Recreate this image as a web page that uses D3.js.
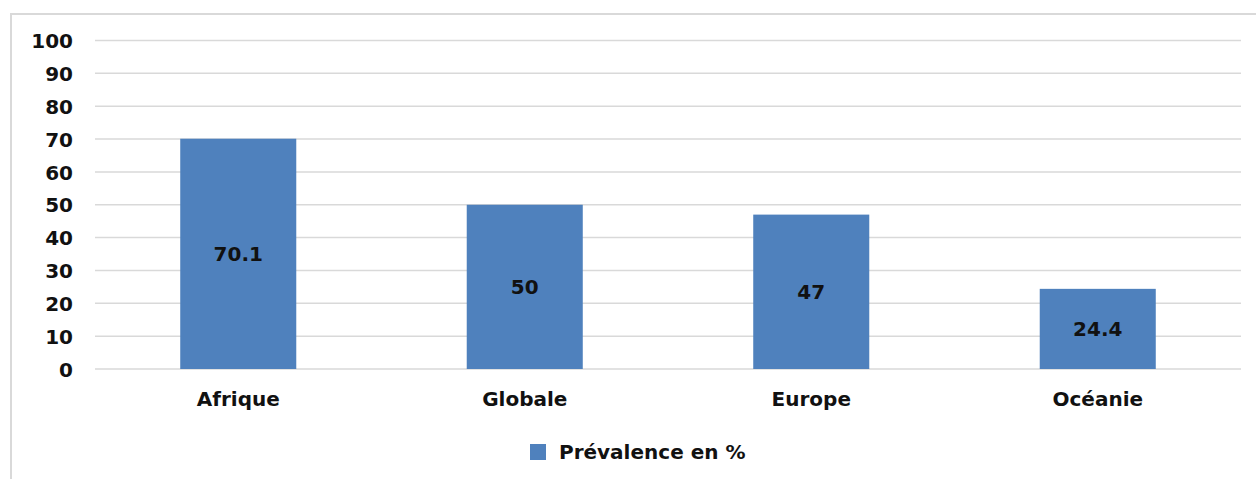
<!DOCTYPE html>
<html><head><meta charset="utf-8">
<script src="https://cdn.jsdelivr.net/npm/d3@7"></script>
<style>html,body{margin:0;padding:0;background:#fff;}svg{display:block;}</style>
</head><body>
<svg id="c" width="1256" height="479"></svg>
<script>
const categories = ["Afrique", "Globale", "Europe", "Océanie"];
const values = [70.1, 50, 47, 24.4];
const valueLabels = ["70.1", "50", "47", "24.4"];
const yTicks = [0, 10, 20, 30, 40, 50, 60, 70, 80, 90, 100];
const seriesName = "Prévalence en %";

const svg = d3.select("#c");
const font = "'DejaVu Sans', Verdana, sans-serif";
const plotLeft = 95, plotRight = 1241, plotTop = 40.5, plotBottom = 369;

svg.append("rect").attr("x", 11).attr("y", 14).attr("width", 1300).attr("height", 600)
  .attr("fill", "#fff").attr("stroke", "#d9d9d9").attr("stroke-width", 2);

const x = d3.scaleBand().domain(categories).range([plotLeft, plotRight])
  .paddingInner(0.595).paddingOuter(0.2975);
const y = d3.scaleLinear().domain([0, 100]).range([plotBottom, plotTop]);

// gridlines
svg.append("g").selectAll("line").data(yTicks).join("line")
  .attr("x1", plotLeft).attr("x2", plotRight)
  .attr("y1", d => y(d)).attr("y2", d => y(d))
  .attr("stroke", "#d9d9d9").attr("stroke-width", 1.5);

// y axis labels
const yAxis = d3.axisLeft(y).tickValues(yTicks).tickSize(0).tickPadding(0);
const gy = svg.append("g").attr("transform", "translate(73,0)").call(yAxis);
gy.select(".domain").remove();
gy.selectAll("text").attr("font-family", font).attr("font-size", 20).attr("font-weight", "bold")
  .attr("fill", "#111").attr("dy", "0.36em");

// bars
svg.append("g").selectAll("rect").data(values).join("rect")
  .attr("x", (d, i) => x(categories[i])).attr("width", x.bandwidth())
  .attr("y", d => y(d)).attr("height", d => y(0) - y(d))
  .attr("fill", "#4f81bd");

// value labels
svg.append("g").selectAll("text").data(values).join("text")
  .attr("x", (d, i) => x(categories[i]) + x.bandwidth() / 2)
  .attr("y", d => (y(d) + y(0)) / 2)
  .attr("dy", "0.36em").attr("text-anchor", "middle")
  .attr("font-family", font).attr("font-size", 20).attr("font-weight", "bold").attr("fill", "#111")
  .text((d, i) => valueLabels[i]);

// x axis
const xAxis = d3.axisBottom(x).tickSize(0).tickPadding(0);
const gx = svg.append("g").attr("transform", `translate(0,${plotBottom})`).call(xAxis);
gx.select(".domain").remove();
gx.selectAll("text").attr("font-family", font).attr("font-size", 20).attr("font-weight", "bold")
  .attr("fill", "#111").attr("dy", 0).attr("y", 37);

// legend
const lg = svg.append("g");
lg.append("rect").attr("x", 530).attr("y", 444).attr("width", 16).attr("height", 16).attr("fill", "#4f81bd");
lg.append("text").attr("x", 559).attr("y", 452).attr("dy", "0.36em")
  .attr("font-family", font).attr("font-size", 20).attr("font-weight", "bold").attr("fill", "#111")
  .text(seriesName);
</script>
</body></html>
